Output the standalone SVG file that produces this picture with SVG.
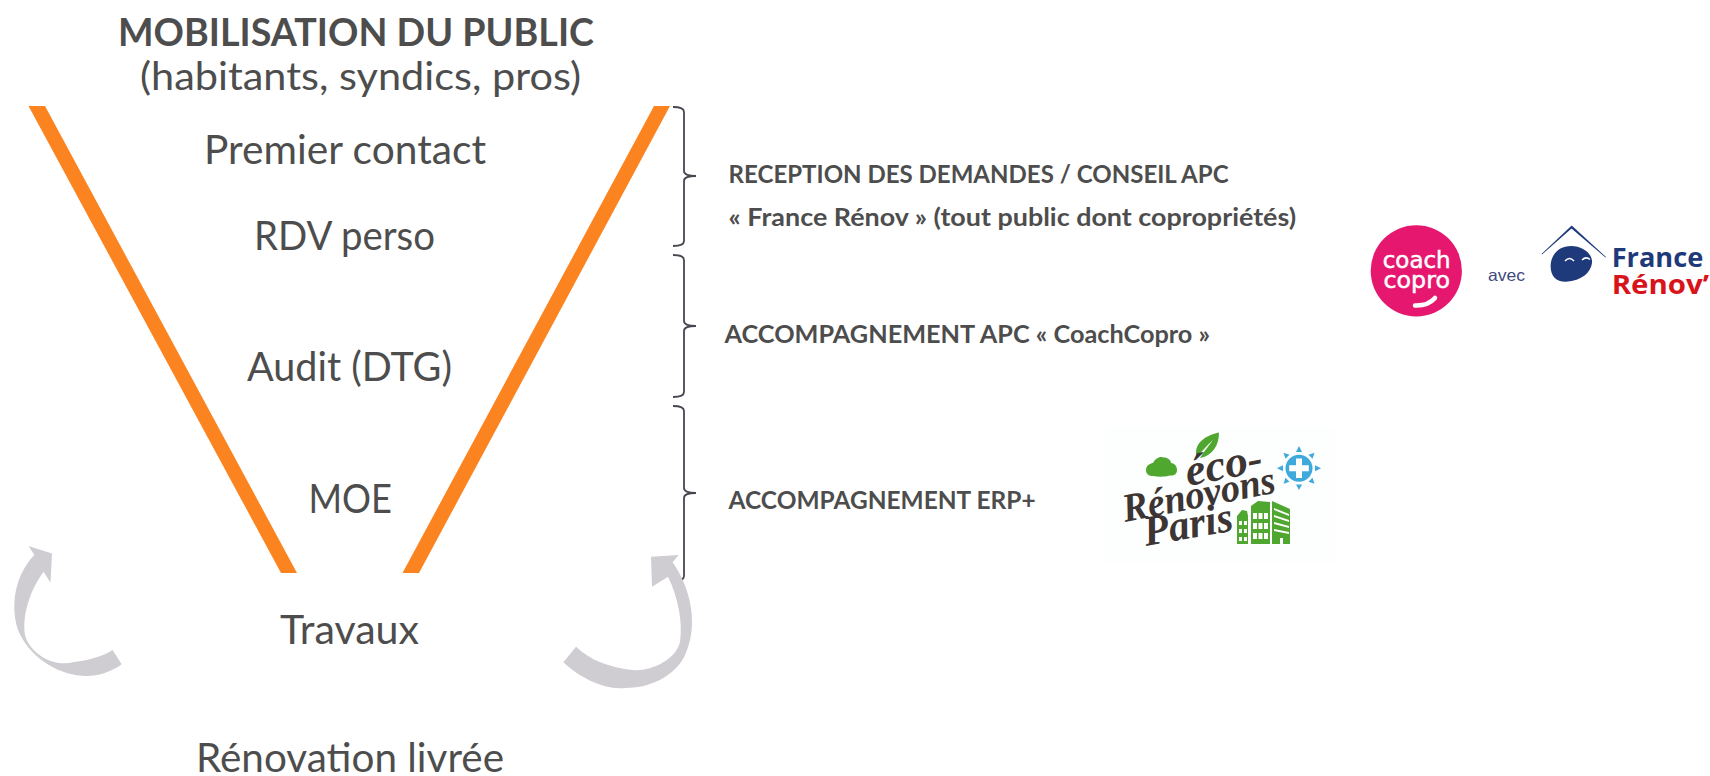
<svg xmlns="http://www.w3.org/2000/svg" width="1710" height="776" viewBox="0 0 1710 776">
<style>
text{font-family:"Lato","Open Sans","Liberation Sans",sans-serif;fill:#4d4d4d}
.h{font-size:39px}
.t{font-size:41px}
.b{font-size:25px;font-weight:700}
.bar{fill:#fb8420}
.brace{fill:none;stroke:#4a4550;stroke-width:1.8}
.arrow{fill:#d0cdd2}
.script{font-family:"Liberation Serif",serif;font-style:italic;font-weight:700;fill:#3c3533}
.cc{font-family:"DejaVu Sans",sans-serif;font-size:23px;fill:#fff;stroke:#fff;stroke-width:.5}
.fr{font-family:"Open Sans",sans-serif;font-size:27px;font-weight:700}
.g{fill:#4fa72f}
.w{fill:#fff}
</style>
<rect width="1710" height="776" fill="#fff"/>
<g id="connectors">
<polygon class="bar" points="28.5,106 45,106 297,573 281,573"/>
<polygon class="bar" points="654,106 670,106 419,573 402.5,573"/>
<path class="brace" d="M673,107 Q684,107 684,112 V171 Q684,176 696,176 Q684,176 684,181 V241 Q684,246 673,246"/>
<path class="brace" d="M673,255 Q684,255 684,260 V321 Q684,326 696,326 Q684,326 684,331 V392 Q684,397 673,397"/>
<path class="brace" d="M673,406 Q684,406 684,411 V488 Q684,493 696,493 Q684,493 684,498 V576 Q684,581 673,581"/>
<path class="arrow" d="M28.5,546 L52,553.5 L50.5,582.7 L43.6,571.7 C30,590 22,615 25,635 C29,652 52,668 74,662 C90,660 103,656 112.5,650 L121.7,664.3 C108,674 94,677 82,675.7 C55,674 28,655 18,630 C10,605 15,575 34.4,555 Z"/>
<path class="arrow" d="M678.6,555 L651,556.7 L652,586.7 L668,576.7 C678,597 683,622 680,642 C676,660 650,672 632,670 C608,667 590,660 576,646.7 L563.4,662.3 C580,678 604,690 625,688 C655,688 680,672 687,650 C697,625 692,590 672.6,562.3 Z"/>
</g>
<g id="title">
<text class="h" font-weight="700" x="118" y="46" textLength="476" lengthAdjust="spacingAndGlyphs">MOBILISATION DU PUBLIC</text>
<text class="h" x="140" y="90" textLength="441" lengthAdjust="spacingAndGlyphs">(habitants, syndics, pros)</text>
</g>
<g id="node-premier-contact"><text class="t" x="204" y="164" textLength="282" lengthAdjust="spacingAndGlyphs">Premier contact</text></g>
<g id="node-rdv-perso"><text class="t" x="254" y="250" textLength="181" lengthAdjust="spacingAndGlyphs">RDV perso</text></g>
<g id="node-audit"><text class="t" x="247" y="381" textLength="205" lengthAdjust="spacingAndGlyphs">Audit (DTG)</text></g>
<g id="node-moe"><text class="t" x="308.5" y="513" textLength="83.5" lengthAdjust="spacingAndGlyphs">MOE</text></g>
<g id="node-travaux"><text class="t" x="280" y="644" textLength="139" lengthAdjust="spacingAndGlyphs">Travaux</text></g>
<g id="node-renovation"><text class="t" x="196" y="772" textLength="308" lengthAdjust="spacingAndGlyphs">Rénovation livrée</text></g>
<g id="label-reception">
<text class="b" x="728.6" y="183" textLength="500" lengthAdjust="spacingAndGlyphs">RECEPTION DES DEMANDES / CONSEIL APC</text>
<text class="b" x="728.6" y="225.5" textLength="567.5" lengthAdjust="spacingAndGlyphs">« France Rénov » (tout public dont copropriétés)</text>
</g>
<g id="label-apc"><text class="b" x="724.5" y="343" textLength="485.5" lengthAdjust="spacingAndGlyphs">ACCOMPAGNEMENT APC « CoachCopro »</text></g>
<g id="label-erp"><text class="b" x="728.6" y="509" textLength="307" lengthAdjust="spacingAndGlyphs">ACCOMPAGNEMENT ERP+</text></g>
<g id="logo-coachcopro">
<circle cx="1416.3" cy="270.8" r="45.6" fill="#e5176f"/>
<text class="cc" style="fill:#fff" x="1382.7" y="268" textLength="68" lengthAdjust="spacingAndGlyphs">coach</text>
<text class="cc" style="fill:#fff" x="1383.5" y="288" textLength="66.5" lengthAdjust="spacingAndGlyphs">copro</text>
<path d="M1415,305.5 Q1428,306 1435,298" fill="none" stroke="#fff" stroke-width="4.5" stroke-linecap="round"/>
</g>
<g id="label-avec"><text x="1488" y="281" font-size="16.5" style="fill:#3f4a7e;font-family:'Liberation Sans',sans-serif" textLength="37" lengthAdjust="spacingAndGlyphs">avec</text></g>
<g id="logo-france-renov">
<polygon points="1571.7,225.5 1541.5,254 1542,254.6 1571.5,228.5 1605.5,257.5 1606,257" fill="#1f3a7a"/>
<path d="M1551,262 C1553,252 1561,246 1571,246 C1584,246 1593,255 1592,263 C1591,272 1582,281 1566,281.7 C1555,282 1549,274 1551,262 Z" fill="#1f3a7a"/>
<path d="M1565,261 Q1569.5,256 1574,261 M1582,260 Q1586,256 1590,259.5" fill="none" stroke="#fff" stroke-width="1.5"/>
<text class="fr" style="fill:#1f3a7a" x="1611.7" y="266.7" textLength="91.5" lengthAdjust="spacingAndGlyphs">France</text>
<text class="fr" style="fill:#d8141a" x="1611.7" y="294.3" textLength="97.5" lengthAdjust="spacingAndGlyphs">Rénov’</text>
</g>
<g id="logo-eco-renovons">
<rect x="1105" y="427" width="230" height="136" fill="#fdfefe"/>
<path class="g" d="M1197,458 C1193,445 1203,436 1219,432.5 C1219,446 1212,456 1200,458 C1204,451 1209,446 1213,440 C1207,446 1201,451 1197,458 Z"/>
<path class="g" d="M1146,470 C1146,465 1151,463 1153,463 C1155,459 1160,456 1163,457.5 C1167,457 1171,460 1171,463 C1175,463 1177,467 1177,470 C1177,474 1174,476 1170,475.5 C1165,477 1158,477 1153,476 C1149,476 1146,474 1146,470 Z"/>
<circle cx="1299" cy="468.3" r="13.5" fill="#3fa9dc"/>
<path class="w" d="M1296,458.5 h6 v6.8 h6.8 v6 h-6.8 v6.8 h-6 v-6.8 h-6.8 v-6 h6.8 Z"/>
<g fill="#3fa9dc">
<polygon points="1299,446 1302,452 1296,452"/><polygon points="1299,490 1302,484.5 1296,484.5"/>
<polygon points="1277,468.3 1283,465.3 1283,471.3"/><polygon points="1321,468.3 1315,465.3 1315,471.3"/>
<polygon points="1283.5,452.8 1289.5,454.8 1285.5,458.8"/><polygon points="1314.5,452.8 1312.5,458.8 1308.5,454.8"/>
<polygon points="1283.5,483.8 1285.5,477.8 1289.5,481.8"/><polygon points="1314.5,483.8 1308.5,481.8 1312.5,477.8"/>
</g>
<text class="script" font-size="44" transform="translate(1188,486) rotate(-11)" textLength="78" lengthAdjust="spacingAndGlyphs">éco-</text>
<text class="script" font-size="40" transform="translate(1125,522) rotate(-11)" textLength="155" lengthAdjust="spacingAndGlyphs">Rénovons</text>
<text class="script" font-size="43" transform="translate(1146,546) rotate(-10)" textLength="90" lengthAdjust="spacingAndGlyphs">Paris</text>
<path class="g" d="M1237,544 V516 L1242,510 L1247,511 L1248,516 V544 Z"/>
<path class="g" d="M1251,544 V506 L1258,501 L1270,502 L1270,544 Z"/>
<path class="g" d="M1272,544 V501 L1290,509 V544 Z"/>
<g class="w">
<rect x="1239" y="521" width="3" height="4"/><rect x="1244" y="521" width="3" height="4"/>
<rect x="1239" y="529" width="3" height="4"/><rect x="1244" y="529" width="3" height="4"/>
<rect x="1239" y="537" width="3" height="4"/><rect x="1244" y="537" width="3" height="4"/>
<rect x="1253" y="513" width="4" height="6"/><rect x="1258.5" y="513" width="4" height="6"/><rect x="1264" y="513" width="4" height="6"/>
<rect x="1253" y="523" width="4" height="6"/><rect x="1258.5" y="523" width="4" height="6"/><rect x="1264" y="523" width="4" height="6"/>
<rect x="1253" y="533" width="4" height="6"/><rect x="1258.5" y="533" width="4" height="6"/><rect x="1264" y="533" width="4" height="6"/>
<polygon points="1274,508 1289,514 1289,516 1274,510"/>
<polygon points="1274,515 1289,520 1289,522 1274,517"/>
<polygon points="1274,522 1289,526 1289,528 1274,524"/>
<polygon points="1274,529 1289,532 1289,534 1274,531"/>
<rect x="1280" y="538" width="3" height="6"/>
</g>
</g>
</svg>
